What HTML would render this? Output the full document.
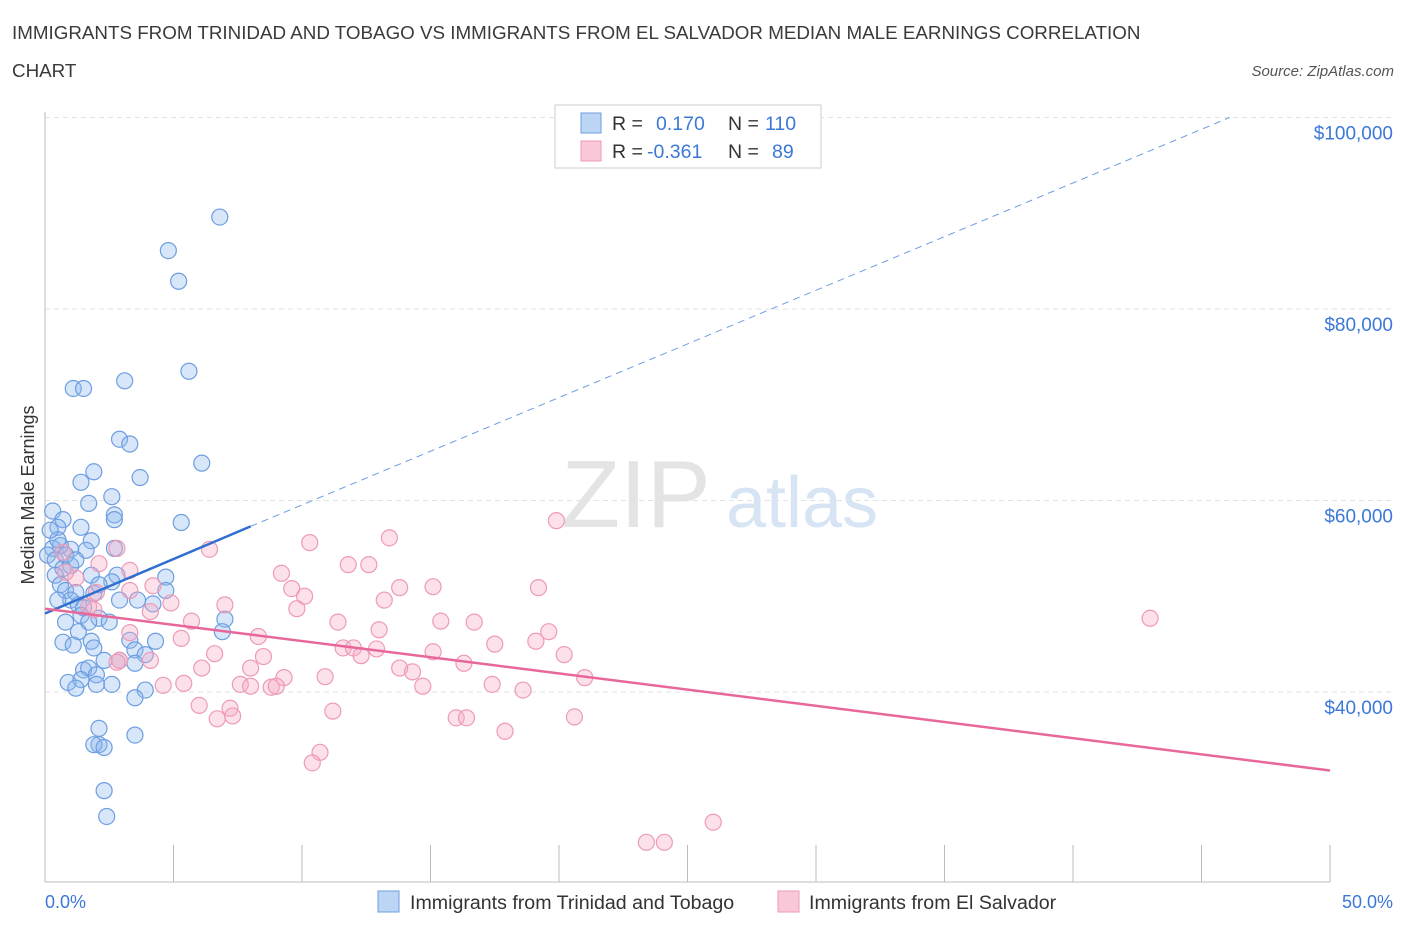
<!DOCTYPE html>
<html><head><meta charset="utf-8"><style>
body{margin:0;background:#fff;font-family:"Liberation Sans",sans-serif}
svg text{font-family:"Liberation Sans",sans-serif}
</style></head><body>
<svg id="chart" width="1406" height="930">
<text x="12" y="39" font-size="18.8" fill="#3a3a3a">IMMIGRANTS FROM TRINIDAD AND TOBAGO VS IMMIGRANTS FROM EL SALVADOR MEDIAN MALE EARNINGS CORRELATION</text>
<text x="12" y="77" font-size="18.8" fill="#3a3a3a">CHART</text>
<text x="1394" y="76" font-size="15" fill="#555" font-style="italic" text-anchor="end">Source: ZipAtlas.com</text>
<text x="636" y="527" font-size="96" fill="#e4e4e4" font-family="Liberation Serif" text-anchor="middle">ZIP</text>
<text x="802" y="527" font-size="72" fill="#d6e4f4" text-anchor="middle">atlas</text>
<g id="grid"></g><g id="axes"></g><g id="pts"></g><g id="trends"></g>
<text x="34" y="495" font-size="18" fill="#333" transform="rotate(-90 34 495)" text-anchor="middle">Median Male Earnings</text>
<text x="45" y="908" font-size="18" fill="#3b78d8">0.0%</text>
<text x="1393" y="908" font-size="18" fill="#3b78d8" text-anchor="end">50.0%</text>
<g>
<rect x="555" y="105" width="266" height="63" fill="#fff" stroke="#ccc"/>
<rect x="581" y="113" width="20" height="20" fill="#bcd5f5" stroke="#6d9ee0"/>
<rect x="581" y="141" width="20" height="20" fill="#f9c8d8" stroke="#ee9ab6"/>
<text x="612" y="130" font-size="19.5" fill="#333">R =</text><text x="656" y="130" font-size="19.5" fill="#3b78d8">0.170</text>
<text x="728" y="130" font-size="19.5" fill="#333">N =</text><text x="765" y="130" font-size="19.5" fill="#3b78d8">110</text>
<text x="612" y="158" font-size="19.5" fill="#333">R =</text><text x="647" y="158" font-size="19.5" fill="#3b78d8">-0.361</text>
<text x="728" y="158" font-size="19.5" fill="#333">N =</text><text x="772" y="158" font-size="19.5" fill="#3b78d8">89</text>
</g>
<g>
<rect x="378" y="891" width="21" height="21" fill="#bcd5f5" stroke="#6d9ee0"/>
<text x="410" y="909" font-size="19.6" fill="#333">Immigrants from Trinidad and Tobago</text>
<rect x="778" y="891" width="21" height="21" fill="#f9c8d8" stroke="#ee9ab6"/>
<text x="809" y="909" font-size="19.6" fill="#333">Immigrants from El Salvador</text>
</g>
</svg>
<script>
const yTicks=[40000,60000,80000,100000];
const yTickLabels=["$40,000","$60,000","$80,000","$100,000"];
const blueX=[6.8,4.8,5.2,5.6,3.1,1.1,1.5,2.9,3.3,6.1,3.7,1.9,1.4,2.6,1.7,5.3,2.7,2.7,0.3,0.7,0.5,1.4,1.0,1.8,0.6,0.3,0.1,0.4,0.7,1.0,1.6,2.7,2.8,2.6,4.7,4.7,0.4,0.6,0.8,1.2,1.9,1.0,1.3,1.5,2.1,2.9,3.6,4.2,7.0,1.4,0.8,1.7,2.5,6.9,1.3,3.3,4.3,0.7,1.8,1.9,3.5,1.1,3.9,2.3,2.9,3.5,1.5,1.7,2.0,0.9,1.4,2.0,2.6,1.2,3.9,3.5,2.1,2.1,1.9,2.3,3.5,2.3,2.4,0.5,0.2,0.8,1.2,1.8,2.1,0.5];
const blueY=[89.6,86.1,82.9,73.5,72.5,71.7,71.7,66.4,65.9,63.9,62.4,63.0,61.9,60.4,59.7,57.7,58.5,58.0,58.9,58.0,57.2,57.2,54.9,55.8,55.3,55.0,54.3,53.8,52.9,53.2,54.8,55.0,52.2,51.5,52.0,50.6,52.2,51.2,50.6,50.4,50.3,49.6,49.1,48.8,47.7,49.6,49.6,49.2,47.6,48.0,47.3,47.3,47.3,46.3,46.3,45.4,45.3,45.2,45.3,44.6,44.4,44.9,43.9,43.3,43.3,43.0,42.3,42.5,41.8,41.0,41.3,40.8,40.8,40.4,40.2,39.4,36.2,34.5,34.5,34.2,35.5,29.7,27.0,55.9,56.9,54.3,53.8,52.2,51.2,49.6];
const pinkX=[43.0,19.9,13.4,10.3,6.4,2.8,0.7,11.8,12.6,9.2,3.3,2.1,1.2,4.2,9.6,10.1,15.1,13.8,19.2,13.2,9.8,7.0,4.9,3.3,2.0,1.7,4.1,5.7,11.4,15.4,16.7,3.3,8.3,13.0,19.6,17.5,19.1,5.3,11.6,12.0,12.9,12.3,6.6,15.1,20.2,8.5,6.1,8.0,9.3,10.9,13.8,14.3,16.3,21.0,7.6,8.0,8.8,9.0,4.6,5.4,14.7,17.4,18.6,6.0,7.2,7.3,6.7,11.2,16.0,16.4,17.9,20.6,10.7,10.4,26.0,23.4,24.1,1.9,0.8,2.9,4.1,2.8];
const pinkY=[47.7,57.9,56.1,55.6,54.9,55.0,54.6,53.3,53.3,52.4,52.7,53.4,51.9,51.1,50.8,50.0,51.0,50.9,50.9,49.6,48.7,49.1,49.3,50.6,50.4,48.9,48.4,47.4,47.3,47.4,47.3,46.2,45.8,46.5,46.3,45.0,45.3,45.6,44.6,44.6,44.5,43.8,44.0,44.2,43.9,43.7,42.5,42.5,41.5,41.6,42.5,42.1,43.0,41.5,40.8,40.6,40.5,40.6,40.7,40.9,40.6,40.8,40.2,38.6,38.3,37.5,37.2,38.0,37.3,37.3,35.9,37.4,33.7,32.6,26.4,24.3,24.3,48.6,52.5,43.3,43.3,43.1];
const blueTrend=[[0,48.2],[8,57.3],[46.1,100]];
const pinkTrend=[[0,48.7],[50,31.8]];
const X=p=>45+p*25.7;
const Y=k=>692-(k-40)*191.5/20;
const NS="http://www.w3.org/2000/svg";
function mk(tag,attrs,parent){const e=document.createElementNS(NS,tag);for(const k in attrs)e.setAttribute(k,attrs[k]);document.getElementById(parent).appendChild(e);return e;}
yTicks.forEach((v,i)=>{
 const y=Y(v/1000);
 const l=mk('line',{x1:45,x2:1393,y1:y,y2:y,stroke:'#e2e2e2','stroke-dasharray':'5,4'},'grid');
 
 
 const t=mk('text',{x:1393,y:y+22,'font-size':19,fill:'#3b78d8','text-anchor':'end'},'grid');
 t.textContent=yTickLabels[i];
 
 
});
const ax=mk('line',{x1:45,x2:1330,y1:882,y2:882,stroke:'#bbb'},'axes');


const ay=mk('line',{x1:45,x2:45,y1:112,y2:882,stroke:'#bbb'},'axes');


for(let p=0;p<=50;p+=5){
 const t=mk('line',{x1:X(p),x2:X(p),y1:845,y2:882,stroke:'#bbb'},'axes');
 
 
}
blueX.forEach((p,i)=>{
 const c=mk('circle',{cx:X(p),cy:Y(blueY[i]),r:8,fill:'rgba(140,182,238,0.35)',stroke:'#6d9ee0','stroke-width':1.2},'pts');
 
 
});
pinkX.forEach((p,i)=>{
 const c=mk('circle',{cx:X(p),cy:Y(pinkY[i]),r:8,fill:'rgba(246,170,196,0.35)',stroke:'#ee9ab6','stroke-width':1.2},'pts');
 
 
});
const b1=mk('line',{x1:X(blueTrend[0][0]),y1:Y(blueTrend[0][1]),x2:X(blueTrend[1][0]),y2:Y(blueTrend[1][1]),stroke:'#2f6fd0','stroke-width':2.5},'trends');


const b2=mk('line',{x1:X(blueTrend[1][0]),y1:Y(blueTrend[1][1]),x2:X(blueTrend[2][0]),y2:Y(blueTrend[2][1]),stroke:'#6d9ee0','stroke-width':1,'stroke-dasharray':'7,5'},'trends');


const p1=mk('line',{x1:X(pinkTrend[0][0]),y1:Y(pinkTrend[0][1]),x2:X(pinkTrend[1][0]),y2:Y(pinkTrend[1][1]),stroke:'#e8679a','stroke-width':2.5},'trends');


</script>
</body></html>
